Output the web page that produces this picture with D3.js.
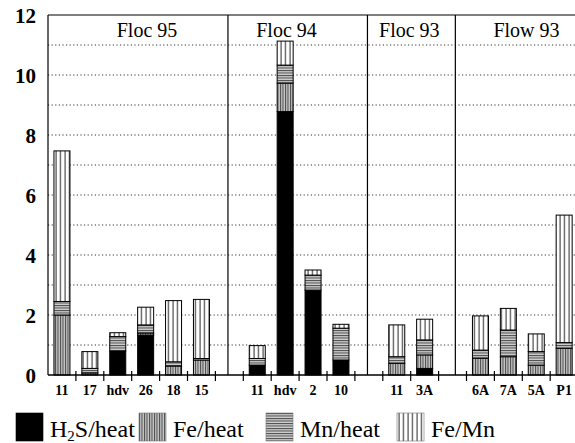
<!DOCTYPE html>
<meta charset="utf-8">
<style>
    body { margin: 0; background: #fff; }
    svg { display: block; }
    text { font-family: "Liberation Serif", "DejaVu Serif", "Times New Roman", serif; }
    .grid line { stroke: #333; stroke-width: 1; stroke-dasharray: 1.2,2.4; }
    .frame { stroke: #000; fill: none; }
</style>
<body>
<script src="https://cdn.jsdelivr.net/npm/d3@7/dist/d3.min.js"></script>
<script>

    // ---- data ----
    var panelNames = ["Floc 95", "Floc 94", "Floc 93", "Flow 93"];
    var sites      = ["11", "17", "hdv", "26", "18", "15", "11", "hdv", "2", "10", "11", "3A", "6A", "7A", "5A", "P1"];
    var sitePanel  = [0, 0, 0, 0, 0, 0, 1, 1, 1, 1, 2, 2, 3, 3, 3, 3];
    var h2sHeat    = [0, 0, 0.80, 1.33, 0, 0, 0.33, 8.78, 2.83, 0.50, 0, 0.22, 0, 0, 0, 0];
    var feHeat     = [2.00, 0.07, 0, 0.07, 0.30, 0.50, 0, 0.95, 0, 0, 0.39, 0.45, 0.56, 0.61, 0.33, 0.89];
    var mnHeat     = [0.45, 0.15, 0.48, 0.27, 0.14, 0.05, 0.22, 0.60, 0.50, 1.06, 0.22, 0.50, 0.27, 0.89, 0.45, 0.19];
    var feMn       = [5.02, 0.56, 0.13, 0.59, 2.04, 1.97, 0.43, 0.80, 0.17, 0.13, 1.06, 0.69, 1.14, 0.72, 0.59, 4.25];
    var seriesKeys = ["h2s", "fe", "mn", "femn"];
    var yTicks     = [0, 2, 4, 6, 8, 10, 12];

    // ---- layout ----
    var W = 575, H = 443;
    var plotLeft = 48, plotTop = 15, plotBottom = 375, slotW = 27.9, nSlots = 19;
    var titleAt   = [3.55, 8.55, 12.95, 17.15];   // in slot units
    var dividerAt = [6.45, 11.45, 14.6];
    var legendX   = [16, 139, 266, 397];

    var rows = sites.map(function(s, i) {
        return { site: s, slot: i + sitePanel[i], h2s: h2sHeat[i], fe: feHeat[i], mn: mnHeat[i], femn: feMn[i] };
    });

    var x = d3.scaleLinear().domain([0, nSlots]).range([plotLeft, plotLeft + nSlots * slotW]);
    var y = d3.scaleLinear().domain([0, 12]).range([plotBottom, plotTop]);
    var barW = 16;

    var svg = d3.select("body").append("svg").attr("width", W).attr("height", H);

    // patterns
    var defs = svg.append("defs");
    var pFe = defs.append("pattern").attr("id", "p-fe").attr("patternUnits", "userSpaceOnUse")
            .attr("width", 2.5).attr("height", 10);
    pFe.append("rect").attr("width", 2.5).attr("height", 10).attr("fill", "#c4c4c4");
    pFe.append("rect").attr("width", 1).attr("height", 10).attr("fill", "#4a4a4a");

    var pMn = defs.append("pattern").attr("id", "p-mn").attr("patternUnits", "userSpaceOnUse")
            .attr("width", 10).attr("height", 2.5);
    pMn.append("rect").attr("width", 10).attr("height", 2.5).attr("fill", "#cfcfcf");
    pMn.append("rect").attr("width", 10).attr("height", 1).attr("fill", "#4a4a4a");

    var pFeMn = defs.append("pattern").attr("id", "p-femn").attr("patternUnits", "userSpaceOnUse")
            .attr("width", 4.5).attr("height", 10);
    pFeMn.append("rect").attr("width", 4.5).attr("height", 10).attr("fill", "#fff");
    pFeMn.append("rect").attr("x", 1.5).attr("width", 1).attr("height", 10).attr("fill", "#222");

    var fills = { h2s: "#000", fe: "url(#p-fe)", mn: "url(#p-mn)", femn: "url(#p-femn)" };

    // dotted gridlines
    svg.append("g").attr("class", "grid")
        .selectAll("line").data(d3.range(1, 12)).enter().append("line")
        .attr("x1", plotLeft).attr("x2", W)
        .attr("y1", function(d) { return y(d); }).attr("y2", function(d) { return y(d); });

    // frame
    svg.append("line").attr("class", "frame").attr("x1", plotLeft).attr("x2", W)
        .attr("y1", y(12)).attr("y2", y(12)).attr("stroke-width", 1.2);
    svg.append("line").attr("class", "frame").attr("x1", plotLeft).attr("x2", plotLeft)
        .attr("y1", y(12)).attr("y2", y(0)).attr("stroke-width", 1.2);
    svg.append("g").selectAll("line").data(dividerAt).enter().append("line")
        .attr("class", "frame").attr("stroke-width", 1.2)
        .attr("x1", function(d) { return x(d); }).attr("x2", function(d) { return x(d); })
        .attr("y1", y(12)).attr("y2", y(0));

    // panel titles
    svg.append("g").selectAll("text").data(panelNames).enter().append("text")
        .attr("x", function(d, i) { return x(titleAt[i]); })
        .attr("y", 37)
        .attr("text-anchor", "middle")
        .attr("font-size", 20)
        .text(function(d) { return d; });

    // stacked bars
    var stack = d3.stack().keys(seriesKeys)(rows);
    svg.append("g").selectAll("g").data(stack).enter().append("g")
        .attr("fill", function(d) { return fills[d.key]; })
        .selectAll("rect").data(function(d) { return d.filter(function(s) { return s[1] - s[0] > 0; }); })
        .enter().append("rect")
        .attr("x", function(d) { return x(d.data.slot + 0.5) - barW / 2; })
        .attr("width", barW)
        .attr("y", function(d) { return y(d[1]); })
        .attr("height", function(d) { return y(d[0]) - y(d[1]); })
        .attr("stroke", "#000").attr("stroke-width", 1);

    // baseline + ticks
    svg.append("line").attr("class", "frame").attr("x1", plotLeft).attr("x2", W)
        .attr("y1", y(0)).attr("y2", y(0)).attr("stroke-width", 1.5);
    svg.append("g").selectAll("line").data(d3.range(1, nSlots)).enter().append("line")
        .attr("stroke", "#000").attr("stroke-width", 1.2)
        .attr("x1", function(d) { return x(d); }).attr("x2", function(d) { return x(d); })
        .attr("y1", y(0) - 4).attr("y2", y(0) + 6);

    // x labels
    svg.append("g").selectAll("text").data(rows).enter().append("text")
        .attr("x", function(d) { return x(d.slot + 0.5); })
        .attr("y", 395)
        .attr("text-anchor", "middle")
        .attr("font-size", 14).attr("font-weight", "bold")
        .text(function(d) { return d.site; });

    // y labels
    svg.append("g").selectAll("text").data(yTicks).enter().append("text")
        .attr("x", 36)
        .attr("y", function(d) { return y(d); })
        .attr("dy", "0.36em")
        .attr("text-anchor", "end")
        .attr("font-size", 21).attr("font-weight", "bold")
        .text(function(d) { return d; });

    // legend
    var leg = svg.append("g").selectAll("g").data(seriesKeys).enter().append("g")
        .attr("transform", function(d, i) { return "translate(" + legendX[i] + ",413)"; });
    leg.append("rect").attr("width", 27).attr("height", 28)
        .attr("fill", function(d) { return fills[d]; })
        .attr("stroke", function(d) { return d === "h2s" ? "#000" : "#777"; }).attr("stroke-width", 0.6);
    var lt = leg.append("text").attr("x", 34).attr("y", 24).attr("font-size", 24);
    lt.each(function(d) {
        var t = d3.select(this);
        if (d === "h2s") {
            t.append("tspan").text("H");
            t.append("tspan").attr("font-size", 15).attr("dy", 3.5).text("2");
            t.append("tspan").attr("dy", -3.5).text("S/heat");
        } else {
            t.text({ fe: "Fe/heat", mn: "Mn/heat", femn: "Fe/Mn" }[d]);
        }
    });

</script>
</body>
